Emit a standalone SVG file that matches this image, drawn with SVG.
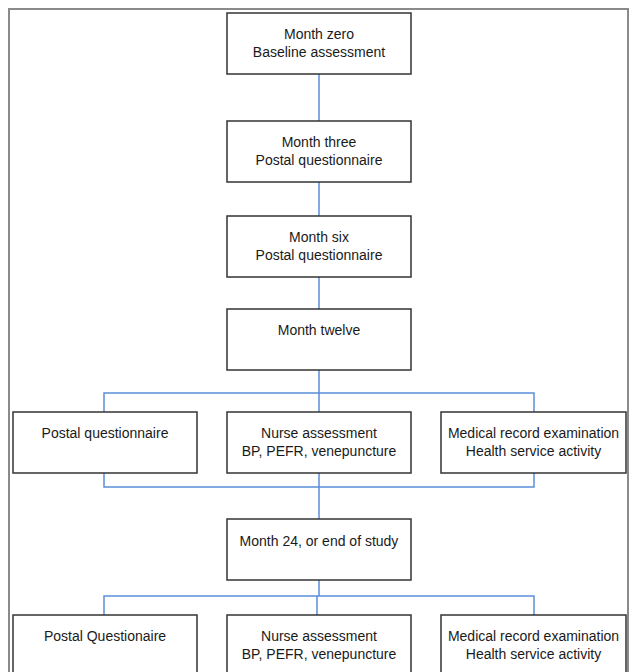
<svg xmlns="http://www.w3.org/2000/svg" width="629" height="672" viewBox="0 0 629 672">
<style>
.box{fill:#fff;stroke:#333;stroke-width:1.5}
.t{font-family:"Liberation Sans",Arial,sans-serif;font-size:14px;fill:#1a1a1a;text-anchor:middle}
.c{fill:none;stroke:#5b8fd9;stroke-width:1.5}
.frame{fill:none;stroke:#8a8a8a;stroke-width:2}
</style>
<rect width="629" height="672" fill="#fff"/>
<path class="frame" d="M9,672 V9 H628 V672"/>
<g id="connectors">
<path class="c" d="M319,74 V121 M319,182 V216 M319,277 V309 M319,370 V412"/>
<path class="c" d="M104,412 V393 H534 V412"/>
<path class="c" d="M104,473 V487 H534 V473 M319,473 V519"/>
<path class="c" d="M319,580 V596 M104,615 V596 H534 V615 M317,596 V615"/>
</g>
<g id="m0"><rect class="box" x="227" y="13" width="184" height="61"/><text class="t" x="319" y="39">Month zero</text><text class="t" x="319" y="57">Baseline assessment</text></g>
<g id="m3"><rect class="box" x="227" y="121" width="184" height="61"/><text class="t" x="319" y="147">Month three</text><text class="t" x="319" y="165">Postal questionnaire</text></g>
<g id="m6"><rect class="box" x="227" y="216" width="184" height="61"/><text class="t" x="319" y="242">Month six</text><text class="t" x="319" y="260">Postal questionnaire</text></g>
<g id="m12"><rect class="box" x="227" y="309" width="184" height="61"/><text class="t" x="319" y="335">Month twelve</text></g>
<g id="r1a"><rect class="box" x="13" y="412" width="184" height="61"/><text class="t" x="105" y="438">Postal questionnaire</text></g>
<g id="r1b"><rect class="box" x="227" y="412" width="184" height="61"/><text class="t" x="319" y="438">Nurse assessment</text><text class="t" x="319" y="456">BP, PEFR, venepuncture</text></g>
<g id="r1c"><rect class="box" x="441" y="412" width="185" height="61"/><text class="t" x="533.5" y="438">Medical record examination</text><text class="t" x="533.5" y="456">Health service activity</text></g>
<g id="m24"><rect class="box" x="227" y="519" width="184" height="61"/><text class="t" x="319" y="546">Month 24, or end of study</text></g>
<g id="r2a"><rect class="box" x="13" y="615" width="184" height="61"/><text class="t" x="105" y="641">Postal Questionaire</text></g>
<g id="r2b"><rect class="box" x="227" y="615" width="184" height="61"/><text class="t" x="319" y="641">Nurse assessment</text><text class="t" x="319" y="659">BP, PEFR, venepuncture</text></g>
<g id="r2c"><rect class="box" x="441" y="615" width="185" height="61"/><text class="t" x="533.5" y="641">Medical record examination</text><text class="t" x="533.5" y="659">Health service activity</text></g>
</svg>
